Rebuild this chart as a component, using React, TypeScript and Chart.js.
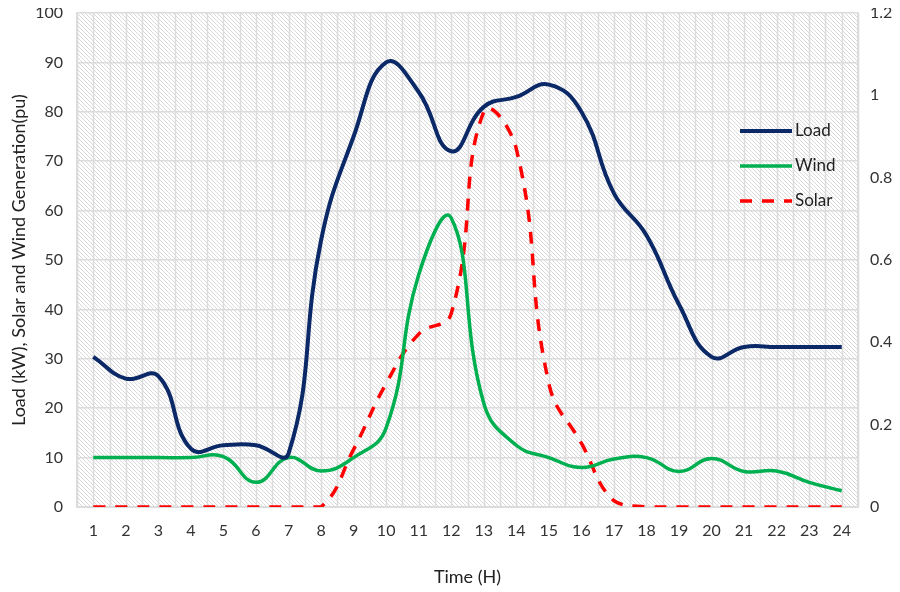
import React, { useEffect, useRef } from "react";
import { Chart, registerables } from "chart.js";

Chart.register(...registerables);

const hours = ["1","2","3","4","5","6","7","8","9","10","11","12","13","14","15","16","17","18","19","20","21","22","23","24"];
const loadKW = [30.4, 26, 26.5, 11.8, 12.5, 12.5, 10.8, 54, 75, 90, 84, 72, 81, 83, 85.5, 80, 63.5, 55, 41, 30.4, 32.4, 32.4, 32.4, 32.4];
const windPU = [10, 10, 10, 10, 10.2, 5, 10, 7.3, 10, 16, 47, 58.5, 21, 12.5, 10, 8, 9.7, 10, 7.2, 9.8, 7.2, 7.3, 5, 3.3];
const solarPU = [0, 0, 0, 0, 0, 0, 0, 0, 0.14, 0.3, 0.42, 0.47, 0.96, 0.87, 0.3, 0.155, 0.015, 0, 0, 0, 0, 0, 0, 0];
const seriesNames = ["Load", "Wind", "Solar"];
const leftTitle = "Load (kW), Solar and Wind Generation(pu)";
const bottomTitle = "Time (H)";

const FONT = "Lato, 'Open Sans', sans-serif";
const GRID = "#dcdcdc";

function makePattern(ctx: CanvasRenderingContext2D) {
  const c = document.createElement("canvas");
  c.width = 4;
  c.height = 4;
  const p = c.getContext("2d")!;
  p.fillStyle = "#ffffff";
  p.fillRect(0, 0, 4, 4);
  p.strokeStyle = "#d9d9d9";
  p.lineWidth = 1;
  p.beginPath();
  p.moveTo(-1, -1);
  p.lineTo(5, 5);
  p.moveTo(-3, 1);
  p.lineTo(1, 5);
  p.moveTo(1, -3);
  p.lineTo(5, 1);
  p.stroke();
  return ctx.createPattern(c, "repeat");
}

const bgPlugin = {
  id: "hatchBg",
  beforeDraw(chart: any) {
    const { ctx, chartArea } = chart;
    if (!chartArea) return;
    ctx.save();
    const pat = makePattern(ctx);
    if (pat) ctx.fillStyle = pat;
    ctx.fillRect(chartArea.left, chartArea.top, chartArea.right - chartArea.left, chartArea.bottom - chartArea.top);
    ctx.restore();
  },
  beforeDatasetsDraw(chart: any) {
    const { ctx, chartArea } = chart;
    const xs = chart.scales.x;
    const n = hours.length * 2;
    const step = (xs.right - xs.left) / n;
    ctx.save();
    ctx.strokeStyle = GRID;
    ctx.lineWidth = 1.5;
    ctx.beginPath();
    for (let i = 0; i <= n; i++) {
      const x = Math.round(xs.left + i * step) + 0.5;
      ctx.moveTo(x, chartArea.top);
      ctx.lineTo(x, chartArea.bottom);
    }
    ctx.stroke();
    ctx.restore();
  },
};

const legendPlugin = {
  id: "innerLegend",
  afterDatasetsDraw(chart: any) {
    const { ctx, chartArea } = chart;
    const x0 = chartArea.right - 118;
    const y0 = chartArea.top + 118;
    const gap = 35;
    ctx.save();
    chart.data.datasets.forEach((ds: any, i: number) => {
      const y = y0 + i * gap;
      ctx.strokeStyle = ds.borderColor;
      ctx.lineWidth = ds.borderWidth;
      ctx.setLineDash(ds.borderDash || []);
      ctx.lineCap = "butt";
      ctx.beginPath();
      ctx.moveTo(x0, y);
      ctx.lineTo(x0 + 52, y);
      ctx.stroke();
      ctx.setLineDash([]);
      ctx.fillStyle = "#222";
      ctx.font = `17px ${FONT}`;
      ctx.textAlign = "left";
      ctx.textBaseline = "middle";
      ctx.fillText(ds.label, x0 + 55, y);
    });
    ctx.restore();
  },
};

const noPad = (s: any) => {
  s.paddingTop = 0;
  s.paddingBottom = 0;
};

export default function App() {
  const ref = useRef<HTMLCanvasElement>(null);
  useEffect(() => {
    if (!ref.current) return;
    const chart = new Chart(ref.current, {
      type: "line",
      data: {
        labels: hours,
        datasets: [
          {
            label: seriesNames[0],
            data: loadKW,
            borderColor: "#0b2867",
            borderWidth: 4,
            pointRadius: 0,
            tension: 0.45,
            yAxisID: "y",
          },
          {
            label: seriesNames[1],
            data: windPU,
            borderColor: "#00b050",
            borderWidth: 3.5,
            pointRadius: 0,
            tension: 0.45,
            yAxisID: "y",
          },
          {
            label: seriesNames[2],
            data: solarPU,
            borderColor: "#ff0000",
            borderWidth: 3.5,
            borderDash: [12, 10],
            pointRadius: 0,
            tension: 0.45,
            yAxisID: "y1",
          },
        ],
      },
      options: {
        responsive: false,
        animation: false,
        layout: { padding: { top: 13, left: 0, right: 0, bottom: 0 } },
        plugins: { legend: { display: false }, tooltip: { enabled: false } },
        scales: {
          x: {
            offset: true,
            grid: { display: false, drawTicks: false },
            border: { display: true, color: GRID, width: 2 },
            ticks: { color: "#333", font: { family: FONT, size: 16 }, padding: 14, maxRotation: 0, autoSkip: false },
            title: { display: true, text: bottomTitle, color: "#222", font: { family: FONT, size: 18 }, padding: { top: 0, bottom: 4 } },
            afterFit: (s: any) => { s.height = 85; s.paddingLeft = 0; s.paddingRight = 0; },
          },
          y: {
            position: "left",
            min: 0,
            max: 100,
            ticks: { stepSize: 10, color: "#333", font: { family: FONT, size: 16 }, padding: 14 },
            grid: { color: GRID, lineWidth: 1.5, drawTicks: false },
            border: { display: true, color: GRID, width: 1.5 },
            title: { display: true, text: leftTitle, color: "#222", font: { family: FONT, size: 18 }, padding: { top: 8, bottom: 0 } },
            afterFit: (s: any) => { s.width = 77; noPad(s); },
          },
          y1: {
            position: "right",
            min: 0,
            max: 1.2,
            ticks: {
              stepSize: 0.2,
              color: "#333",
              font: { family: FONT, size: 16 },
              padding: 12,
              callback: (v: any) => String(Number(Number(v).toFixed(1))),
            },
            grid: { drawOnChartArea: false, drawTicks: false },
            border: { display: true, color: GRID, width: 1.5 },
            afterFit: (s: any) => { s.width = 34; noPad(s); },
          },
        },
      },
      plugins: [bgPlugin, legendPlugin],
    });
    return () => chart.destroy();
  }, []);
  return <canvas ref={ref} width={892} height={592} style={{ display: "block", margin: "-8px 0 0 -8px" }} />;
}
